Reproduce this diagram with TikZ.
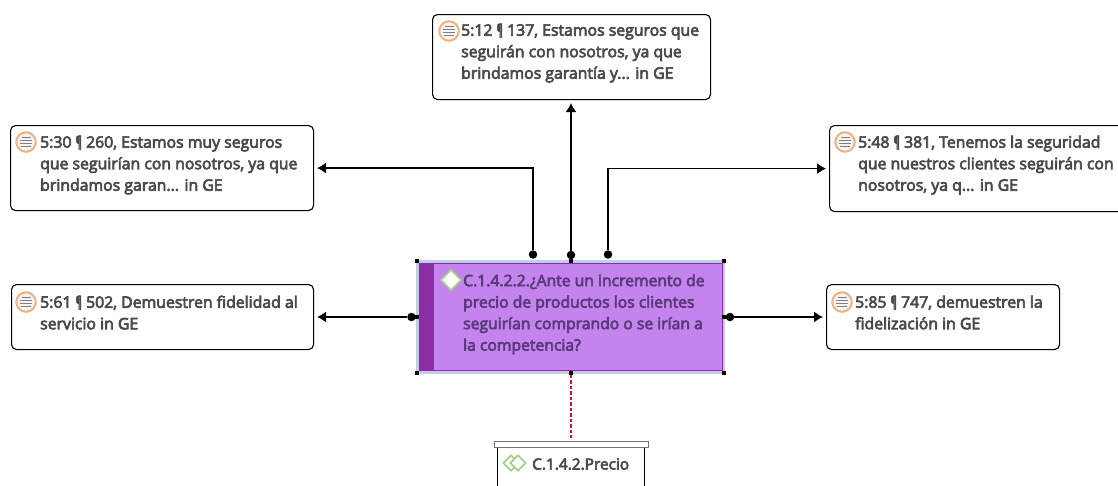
\documentclass[tikz,border=0pt]{standalone}
\usepackage{fontspec}
\setmainfont{Open Sans}[FakeBold=4]
\usetikzlibrary{arrows.meta,shapes.geometric}
\definecolor{txt}{HTML}{4A4A4A}
\definecolor{purp}{HTML}{C583EE}
\definecolor{purpd}{HTML}{8A2DA6}
\definecolor{purptxt}{HTML}{5A3A7C}
\definecolor{sel}{HTML}{C3CDE6}
\definecolor{orng}{HTML}{F0B27E}
\definecolor{grn}{HTML}{A6D08C}
\definecolor{dashred}{HTML}{D0122F}
\newcommand{\pil}{\scalebox{0.62}[1]{¶}}
\tikzset{
 quote/.style={draw=black,line width=1.1pt,rounded corners=5pt,fill=white,anchor=north west,inner sep=0pt},
 quotetext/.style={anchor=north west,text=txt,font=\fontsize{15.8}{21.5}\selectfont,align=left,inner sep=0pt},
 conn/.style={draw=black,line width=1.2pt,-{Latex[length=9pt,width=11pt]},shorten >=3pt},
 dot/.style={circle,fill=black,inner sep=0pt,minimum size=8.5pt},
 handle/.style={fill=black,inner sep=0pt,minimum size=3.5pt,rectangle},
 qring/.style={circle,draw=orng,line width=2pt,fill=white!92!gray,minimum size=19.5pt,inner sep=0pt},
}
\newcommand{\qicon}[2]{%
 \node[qring] (#2) at (#1) {};
 \foreach \dy/\w in {-4.5/5,-1.5/6,1.5/6,4.5/4.5}{
  \draw[gray,line width=1.7pt] ([shift={(-\w pt,\dy pt)}]#2.center) -- ([shift={(\w pt,\dy pt)}]#2.center);}
}
\begin{document}
\begin{tikzpicture}[x=1pt,y=-1pt]
\useasboundingbox (0,0) rectangle (1118,485);
% quotation boxes
\node[quote,minimum width=278pt,minimum height=85pt] (top) at (432,14) {};
\node[quote,minimum width=303pt,minimum height=85pt] (la) at (10,125) {};
\node[quote,minimum width=296pt,minimum height=86pt] (ra) at (829,125) {};
\node[quote,minimum width=302pt,minimum height=65pt] (lb) at (11,284) {};
\node[quote,minimum width=233pt,minimum height=65pt] (rb) at (826,284) {};
\node[quotetext] (toptxt) at (461,23.5) {5:12 \pil\ 137, Estamos seguros que\\seguirán con nosotros, ya que\\brindamos garantía y... in GE};
\node[quotetext] (latxt) at (40,135.5) {5:30 \pil\ 260, Estamos muy seguros\\que seguirían con nosotros, ya que\\brindamos garan... in GE};
\node[quotetext] (ratxt) at (858,135.5) {5:48 \pil\ 381, Tenemos la seguridad\\que nuestros clientes seguirán con\\nosotros, ya q... in GE};
\node[quotetext] (lbtxt) at (40,295.5) {5:61 \pil\ 502, Demuestren fidelidad al\\servicio in GE};
\node[quotetext] (rbtxt) at (855,295.5) {5:85 \pil\ 747, demuestren la\\fidelización in GE};
\qicon{449,31}{itop}
\qicon{26,142}{ila}
\qicon{845,142}{ira}
\qicon{26,302}{ilb}
\qicon{842,302}{irb}
% central node
\fill[sel] (416,260) rectangle (725,374);
\node[draw=purpd,line width=.8pt,fill=purp,minimum width=303pt,minimum height=107pt,anchor=north west,inner sep=0pt] (main) at (419,263) {};
\fill[purpd] (419,263) rectangle (434,370);
\node[diamond,draw=grn,line width=1.8pt,fill=white,minimum width=21pt,minimum height=21pt,inner sep=0pt] (mainicon) at (451,280) {};
\node[anchor=north west,text=purptxt,font=\fontsize{15.7}{21.5}\selectfont,align=left,inner sep=0pt] (maintxt) at (463,274) {C.1.4.2.2.¿Ante un incremento de\\precio de productos los clientes\\seguirían comprando o se irían a\\la competencia?};
\foreach \p/\n in {417/a,571/b,724/c}{
 \node[handle] (h\n) at (\p,261) {};
 \node[handle] (k\n) at (\p,373) {};}
\node[handle] (hl) at (417,317) {};
\node[handle] (hr) at (724,317) {};
% connectors
\node[dot] (d1) at (533,254.5) {};
\node[dot] (d2) at (571,255) {};
\node[dot] (d3) at (608,254.5) {};
\node[dot] (d4) at (411.5,317) {};
\node[dot] (d5) at (730,317) {};
\draw[conn] (d1) |- (la.east);
\draw[conn] (d2) -- (top.south -| d2);
\draw[conn] (d3) |- (ra.west);
\draw[conn] (d4) -- (lb.east |- d4);
\draw[conn] (d5) -- (rb.west |- d5);
% code group
\node[draw=black!55,line width=1pt,fill=white,minimum width=154pt,minimum height=6pt,anchor=north west,inner sep=0pt] (cap) at (494,441) {};
\coordinate (bl) at (497.5,486);
\coordinate (br) at (644.5,486);
\draw[black,line width=1.2pt] (bl) -- (bl |- cap.south);
\draw[black,line width=1.2pt] (br) -- (br |- cap.south);
\draw[dashred,line width=1.5pt,dash pattern=on 3.5pt off 2pt,shorten >=3pt] (kb) -- (cap.north -| kb);
\node[diamond,draw=grn,line width=1.8pt,minimum width=16pt,minimum height=16pt,inner sep=0pt] (ci1) at (511,463) {};
\node[diamond,draw=grn,line width=1.8pt,fill=white,minimum width=16pt,minimum height=16pt,inner sep=0pt] (ci2) at (518,463) {};
\node[anchor=west,text=txt,font=\fontsize{15.4}{21.5}\selectfont,inner sep=0pt] (ctxt) at (532,464) {C.1.4.2.Precio};
\end{tikzpicture}
\end{document}
